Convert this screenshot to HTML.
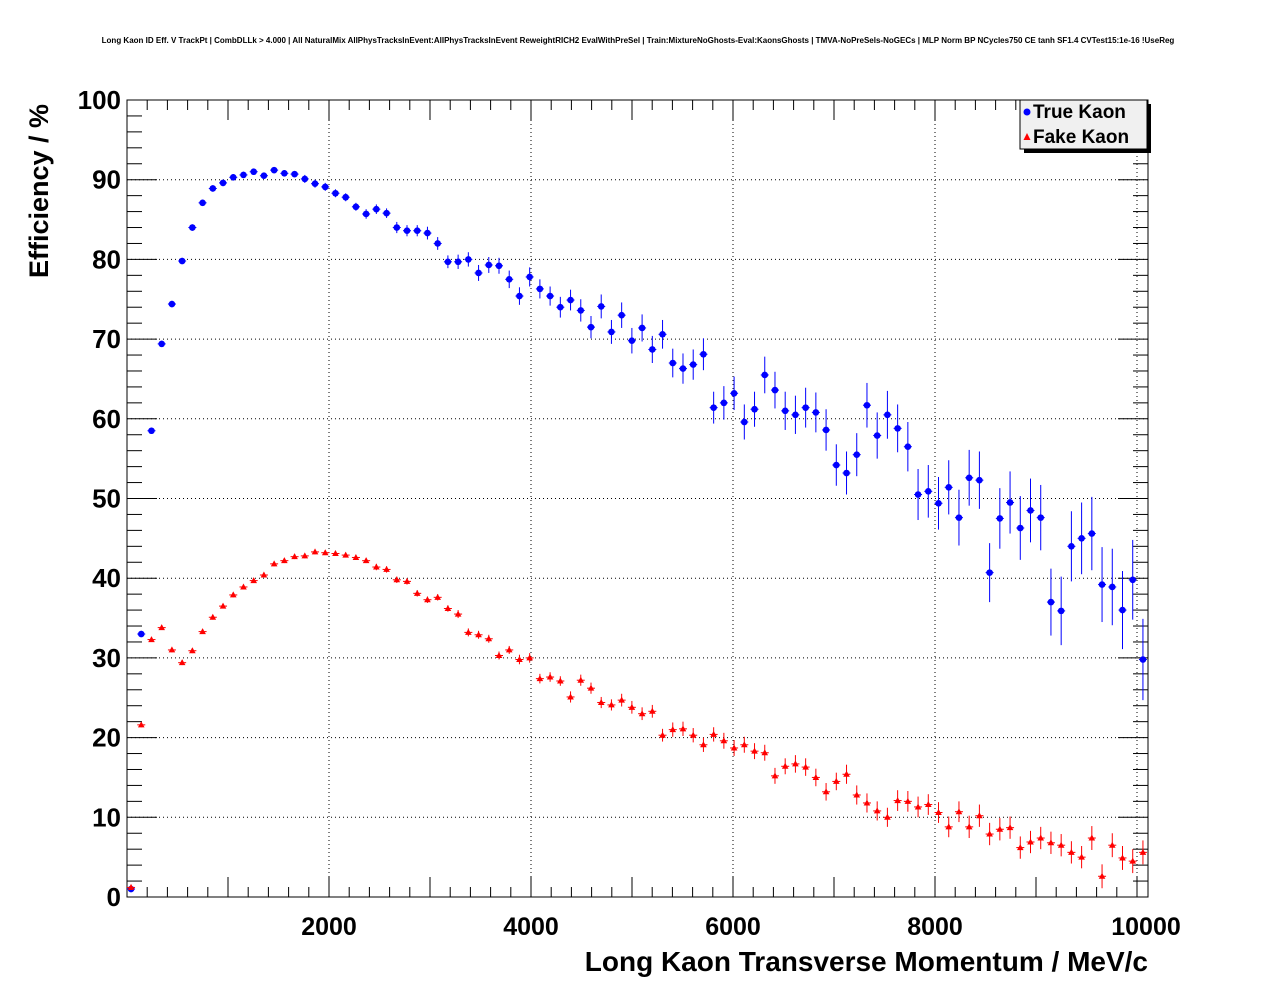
<!DOCTYPE html>
<html><head><meta charset="utf-8"><style>
body{margin:0;background:#fff;}
svg{display:block;font-family:"Liberation Sans",sans-serif;}
</style></head><body>
<svg id="c" width="1276" height="996">
<text x="638" y="43" font-size="8" font-weight="bold" text-anchor="middle">Long Kaon ID Eff. V TrackPt | CombDLLk &gt; 4.000 | All NaturalMix AllPhysTracksInEvent:AllPhysTracksInEvent ReweightRICH2 EvalWithPreSel | Train:MixtureNoGhosts-Eval:KaonsGhosts | TMVA-NoPreSels-NoGECs | MLP Norm BP NCycles750 CE tanh SF1.4 CVTest15:1e-16 !UseReg</text>
<g id="grid"></g>
<g id="axes"></g>
<g id="marks"></g>
<text x="1148" y="971" font-size="28" font-weight="bold" text-anchor="end">Long Kaon Transverse Momentum / MeV/c</text>
<text transform="translate(48,278) rotate(-90)" font-size="27" font-weight="bold">Efficiency / %</text>
<g>
<rect x="1024" y="104" width="127" height="49" fill="#000"/>
<rect x="1020" y="100" width="127" height="49" fill="#f0f0f0" stroke="#000"/>
<circle cx="1027" cy="112" r="3.5" fill="#00f"/>
<text x="1033" y="118" font-size="19" font-weight="bold">True Kaon</text>
<polygon points="1023.5,140 1030.5,140 1027,133" fill="#f00"/>
<text x="1033" y="143" font-size="19" font-weight="bold">Fake Kaon</text>
</g>
</svg>
<script>
const trueEff=[1,33,58.5,69.4,74.4,79.8,84,87.1,88.9,89.6,
90.3,90.6,91,90.5,91.2,90.8,90.7,90.1,89.5,89.1,
88.3,87.8,86.6,85.7,86.3,85.8,84,83.6,83.6,83.3,
82,79.7,79.7,80,78.3,79.3,79.2,77.5,75.4,77.8,
76.3,75.4,74,74.9,73.6,71.5,74.1,70.9,73,69.8,
71.4,68.7,70.6,67,66.3,66.8,68.1,61.4,62,63.2,
59.6,61.2,65.5,63.6,61,60.5,61.4,60.8,58.6,54.2,
53.2,55.5,61.7,57.9,60.5,58.8,56.5,50.5,50.9,49.4,
51.4,47.6,52.6,52.3,40.7,47.5,49.5,46.3,48.5,47.6,
37,35.9,44,45,45.6,39.2,38.9,36,39.8,29.8];
const trueErr=[0.3,0.4,0.4,0.4,0.4,0.4,0.4,0.4,0.4,0.4,
0.4,0.4,0.4,0.4,0.4,0.4,0.4,0.5,0.5,0.5,
0.5,0.5,0.5,0.6,0.6,0.6,0.7,0.7,0.7,0.8,
0.8,0.8,0.9,0.9,1,1,1,1.1,1.1,1.2,
1.2,1.2,1.3,1.3,1.4,1.4,1.5,1.5,1.6,1.6,
1.7,1.7,1.8,1.8,1.9,1.9,2,2,2.1,2.1,
2.2,2.2,2.3,2.3,2.4,2.4,2.5,2.5,2.6,2.6,
2.7,2.7,2.8,2.9,3,3,3.1,3.2,3.3,3.3,
3.4,3.5,3.5,3.6,3.7,3.8,3.9,4,4,4.1,
4.2,4.3,4.4,4.5,4.6,4.7,4.8,4.9,5,5.1];
const fakeEff=[1.2,21.6,32.3,33.8,31,29.4,30.9,33.3,35.1,36.5,
37.9,38.9,39.7,40.4,41.8,42.2,42.7,42.8,43.3,43.2,
43.1,42.9,42.6,42.2,41.4,41.1,39.8,39.6,38.1,37.3,
37.6,36.2,35.5,33.2,32.9,32.4,30.3,31,29.8,30,
27.4,27.6,27.1,25.1,27.2,26.2,24.4,24.1,24.7,23.8,
23,23.3,20.3,21,21.1,20.3,19.1,20.4,19.6,18.7,
19.1,18.3,18.1,15.2,16.4,16.7,16.3,15,13.2,14.5,
15.4,12.8,11.8,10.8,10,12.1,12,11.3,11.6,10.6,
8.8,10.7,8.8,10.2,7.9,8.5,8.7,6.2,6.9,7.4,
6.8,6.5,5.6,5,7.4,2.6,6.5,4.9,4.5,5.6];
const fakeErr=[0.3,0.3,0.3,0.3,0.3,0.3,0.3,0.3,0.3,0.3,
0.3,0.3,0.3,0.3,0.3,0.3,0.3,0.3,0.3,0.3,
0.3,0.3,0.3,0.3,0.4,0.4,0.4,0.4,0.4,0.4,
0.4,0.4,0.5,0.5,0.5,0.5,0.5,0.5,0.6,0.6,
0.6,0.6,0.6,0.7,0.7,0.7,0.7,0.7,0.8,0.8,
0.8,0.8,0.8,0.9,0.9,0.9,0.9,0.9,1,1,
1,1,1,1,1,1.1,1.1,1.1,1.1,1.1,
1.2,1.2,1.2,1.2,1.2,1.3,1.3,1.3,1.3,1.3,
1.3,1.3,1.4,1.4,1.4,1.4,1.4,1.4,1.4,1.4,
1.4,1.4,1.4,1.4,1.5,1.5,1.5,1.5,1.5,1.5];
const binStart=0, binWidth=101.2, binOffset=40;
const xTicks=[2000,4000,6000,8000,10000];
const xTickLabels=["2000","4000","6000","8000","10000"];
const yTicks=[0,10,20,30,40,50,60,70,80,90,100];
const yTickLabels=["0","10","20","30","40","50","60","70","80","90","100"];
const NS="http://www.w3.org/2000/svg";
const L=127,R=1148,T=100,B=897;
const xs=v=>L+v*0.101;
const ys=v=>B-(v/100)*(B-T);
function mk(tag,attrs,parent){const e=document.createElementNS(NS,tag);for(const k in attrs)e.setAttribute(k,attrs[k]);parent.appendChild(e);return e;}
const grid=document.getElementById('grid'),axes=document.getElementById('axes'),marks=document.getElementById('marks');
xTicks.forEach((t,i)=>{
  const x=xs(t);
  if(x<R-2){const g=mk('line',{x1:x,x2:x,y1:T,y2:B,stroke:'#000','stroke-width':1,'stroke-dasharray':'1,3'},grid);
  
  }
  const tx=mk('text',{x:i===xTicks.length-1?1146:x,y:935,'font-size':25,'font-weight':'bold','text-anchor':'middle'},axes);
  tx.textContent=xTickLabels[i];
  
  
});
yTicks.forEach((t,i)=>{
  const y=ys(t);
  if(t>0&&t<100){const g=mk('line',{x1:L,x2:R,y1:y,y2:y,stroke:'#000','stroke-width':1,'stroke-dasharray':'1,3'},grid);
  
  }
  const tx=mk('text',{x:121,y:y+9,'font-size':26,'font-weight':'bold','text-anchor':'end'},axes);
  tx.textContent=yTickLabels[i];
  
  
});
const fr=mk('rect',{x:L,y:T,width:R-L,height:B-T,fill:'none',stroke:'#000','stroke-width':1},axes);


for(let v=0;v<=10100;v+=200){const x=xs(v);if(x>R)break;const big=v%1000===0;
  mk('line',{x1:x,x2:x,y1:B,y2:B-(big?20:10),stroke:'#000'},axes);
  mk('line',{x1:x,x2:x,y1:T,y2:T+(big?20:10),stroke:'#000'},axes);}
for(let v=0;v<=100;v+=2){const y=ys(v);const big=v%10===0;
  mk('line',{x1:L,x2:L+(big?30:15),y1:y,y2:y,stroke:'#000'},axes);
  mk('line',{x1:R,x2:R-(big?30:15),y1:y,y2:y,stroke:'#000'},axes);}
function series(vals,errs,color,shape,name){
  vals.forEach((v,i)=>{
    const xv=binOffset+binStart+i*binWidth;
    const x=xs(xv),y=ys(v);
    const g=mk('g',{},marks);
    
    
    mk('line',{x1:x,x2:x,y1:ys(v-errs[i]),y2:ys(v+errs[i]),stroke:color,'stroke-width':1},g);
    mk('line',{x1:x-4,x2:x+4,y1:y,y2:y,stroke:color,'stroke-width':1},g);
    if(shape==='c')mk('circle',{cx:x,cy:y,r:3.3,fill:color},g);
    else mk('polygon',{points:`${x-3.3},${y+2.5} ${x+3.3},${y+2.5} ${x},${y-3.5}`,fill:color},g);
  });
}
series(trueEff,trueErr,'#0000ff','c','true-kaon');
series(fakeEff,fakeErr,'#ff0000','t','fake-kaon');
</script>
</body></html>
